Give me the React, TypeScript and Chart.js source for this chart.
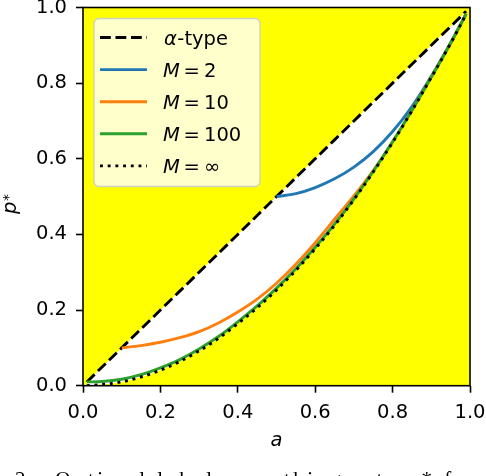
import React, { useEffect, useRef } from "react";
import { Chart, registerables } from "chart.js";

Chart.register(...registerables);

const FONT = '"DejaVu Sans", sans-serif';

// Legend labels / colours
const SERIES_NAMES = ["α-type", "M = 2", "M = 10", "M = 100", "M = ∞"];
const SERIES_COLORS = ["#000000", "#1f77b4", "#ff7f0e", "#2ca02c", "#000000"];

// α-type (diagonal)
const alphaA = [0.01, 0.05, 0.1, 0.15, 0.2, 0.25, 0.3, 0.35, 0.4, 0.45, 0.5, 0.55, 0.6, 0.65, 0.7, 0.75, 0.8, 0.85, 0.9, 0.95, 0.99];
const alphaP = [0.01, 0.05, 0.1, 0.15, 0.2, 0.25, 0.3, 0.35, 0.4, 0.45, 0.5, 0.55, 0.6, 0.65, 0.7, 0.75, 0.8, 0.85, 0.9, 0.95, 0.99];

// M = 2
const m2A = [0.5, 0.55, 0.6, 0.65, 0.7, 0.75, 0.8, 0.85, 0.9, 0.95, 0.99];
const m2P = [0.5, 0.508, 0.524, 0.547, 0.578, 0.619, 0.672, 0.738, 0.818, 0.907, 0.983];

// M = 10
const m10A = [0.1, 0.15, 0.2, 0.25, 0.3, 0.35, 0.4, 0.45, 0.5, 0.55, 0.6, 0.65, 0.7, 0.75, 0.8, 0.85, 0.9, 0.95, 0.99];
const m10P = [0.1, 0.106, 0.115, 0.127, 0.143, 0.166, 0.195, 0.229, 0.271, 0.321, 0.378, 0.44, 0.502, 0.569, 0.645, 0.728, 0.816, 0.906, 0.983];

// M = 100
const m100A = [0.01, 0.05, 0.1, 0.15, 0.2, 0.25, 0.3, 0.35, 0.4, 0.45, 0.5, 0.55, 0.6, 0.65, 0.7, 0.75, 0.8, 0.85, 0.9, 0.95, 0.99];
const m100P = [0.01, 0.011, 0.017, 0.029, 0.047, 0.069, 0.097, 0.13, 0.169, 0.211, 0.258, 0.309, 0.366, 0.427, 0.494, 0.567, 0.645, 0.728, 0.816, 0.906, 0.983];

// M = ∞
const mInfA = [0.01, 0.05, 0.1, 0.15, 0.2, 0.25, 0.3, 0.35, 0.4, 0.45, 0.5, 0.55, 0.6, 0.65, 0.7, 0.75, 0.8, 0.85, 0.9, 0.95, 0.99];
const mInfP = [0.0, 0.003, 0.01, 0.023, 0.041, 0.064, 0.092, 0.125, 0.164, 0.206, 0.253, 0.305, 0.362, 0.424, 0.492, 0.565, 0.643, 0.727, 0.815, 0.905, 0.982];

const X_TICKS = [0, 0.2, 0.4, 0.6, 0.8, 1.0];
const Y_TICKS = [0, 0.2, 0.4, 0.6, 0.8, 1.0];

const X_LABEL = "a";
const CAPTION = "2.  Optimal label smoothing rate p* for";

const toPts = (xs: number[], ys: number[]) => xs.map((x, i) => ({ x, y: ys[i] }));

const DASHED = [10.8, 4.7];
const DOTTED = [2.9, 4.8];
const LW = 2.9;

const bgPlugin = {
  id: "yellowBg",
  beforeDraw(chart: any) {
    const { ctx, chartArea: a } = chart;
    ctx.save();
    ctx.fillStyle = "#ffff00";
    ctx.fillRect(a.left, a.top, a.right - a.left, a.bottom - a.top);
    ctx.restore();
  },
};

const framePlugin = {
  id: "frame",
  afterDatasetsDraw(chart: any) {
    const { ctx, chartArea: a } = chart;
    ctx.save();
    ctx.strokeStyle = "#000";
    ctx.lineWidth = 1.6;
    ctx.setLineDash([]);
    ctx.strokeRect(a.left, a.top, a.right - a.left, a.bottom - a.top);
    ctx.restore();
  },
};

const legendPlugin = {
  id: "customLegend",
  afterDraw(chart: any) {
    const ctx = chart.ctx;
    ctx.save();
    ctx.beginPath();
    ctx.roundRect(94, 18.5, 166, 168, 5);
    ctx.fillStyle = "rgba(255,255,255,0.8)";
    ctx.fill();
    ctx.lineWidth = 1.4;
    ctx.strokeStyle = "rgba(204,204,204,0.9)";
    ctx.stroke();
    const dashes = [DASHED, [], [], [], DOTTED];
    SERIES_NAMES.forEach((name, i) => {
      const y = 37.5 + i * 32.1;
      ctx.beginPath();
      ctx.setLineDash(dashes[i]);
      ctx.lineCap = "butt";
      ctx.lineWidth = LW;
      ctx.strokeStyle = SERIES_COLORS[i];
      ctx.moveTo(100, y);
      ctx.lineTo(147, y);
      ctx.stroke();
      ctx.setLineDash([]);
      ctx.fillStyle = "#000";
      ctx.textBaseline = "alphabetic";
      ctx.textAlign = "left";
      const by = y + 7.2;
      if (name.startsWith("α")) {
        ctx.font = `italic 19.5px ${FONT}`;
        ctx.fillText("α", 164, by);
        const aw = ctx.measureText("α").width;
        ctx.font = `19.5px ${FONT}`;
        ctx.fillText(name.slice(1), 164 + aw + 0.5, by);
      } else {
        const parts = name.split(" = ");
        ctx.font = `italic 19.5px ${FONT}`;
        ctx.fillText(parts[0], 163, by);
        ctx.font = `19.5px ${FONT}`;
        ctx.fillText("=", 183.5, by);
        ctx.fillText(parts[1], 204, by);
      }
    });

    // y-axis title p*
    ctx.save();
    ctx.translate(16, 214);
    ctx.rotate(-Math.PI / 2);
    ctx.font = `italic 19.5px ${FONT}`;
    ctx.fillText("p", 0, 0);
    const pw = ctx.measureText("p").width;
    ctx.font = `13.6px ${FONT}`;
    ctx.fillText("*", pw + 0.5, -3);
    ctx.restore();

    // caption (cropped at the bottom of the picture)
    ctx.font = `21px "Liberation Serif", serif`;
    (ctx as any).letterSpacing = "3.5px";
    ctx.fillStyle = "#000";
    ctx.fillText(CAPTION, 15, 486);
    ctx.restore();
  },
};

export default function App() {
  const ref = useRef<HTMLCanvasElement>(null);
  useEffect(() => {
    if (!ref.current) return;
    const tickFont = { family: FONT, size: 19.5 };
    const chart = new Chart(ref.current, {
      type: "line",
      data: {
        datasets: [
          {
            label: SERIES_NAMES[0],
            data: toPts(alphaA, alphaP),
            borderColor: SERIES_COLORS[0],
            borderDash: DASHED,
            borderWidth: LW,
            borderCapStyle: "butt",
            backgroundColor: "#ffffff",
            fill: 4,
            pointRadius: 0,
            order: 4,
          },
          {
            label: SERIES_NAMES[1],
            data: toPts(m2A, m2P),
            borderColor: SERIES_COLORS[1],
            borderWidth: LW,
            fill: false,
            pointRadius: 0,
            cubicInterpolationMode: "monotone",
            order: 3,
          },
          {
            label: SERIES_NAMES[2],
            data: toPts(m10A, m10P),
            borderColor: SERIES_COLORS[2],
            borderWidth: LW,
            fill: false,
            pointRadius: 0,
            cubicInterpolationMode: "monotone",
            order: 2,
          },
          {
            label: SERIES_NAMES[3],
            data: toPts(m100A, m100P),
            borderColor: SERIES_COLORS[3],
            borderWidth: LW,
            fill: false,
            pointRadius: 0,
            cubicInterpolationMode: "monotone",
            order: 1,
          },
          {
            label: SERIES_NAMES[4],
            data: toPts(mInfA, mInfP),
            borderColor: SERIES_COLORS[4],
            borderDash: DOTTED,
            borderWidth: LW,
            borderCapStyle: "butt",
            fill: false,
            pointRadius: 0,
            cubicInterpolationMode: "monotone",
            order: 0,
          },
        ],
      },
      options: {
        responsive: false,
        maintainAspectRatio: false,
        animation: false,
        devicePixelRatio: 1,
        layout: { padding: 0 },
        plugins: {
          legend: { display: false },
          tooltip: { enabled: false },
          filler: { drawTime: "beforeDatasetsDraw" },
        },
        scales: {
          x: {
            type: "linear",
            min: 0,
            max: 1,
            afterBuildTicks: (s: any) => {
              s.ticks = X_TICKS.map((v) => ({ value: v }));
            },
            afterFit: (s: any) => {
              s.height = 90.3;
              s.paddingLeft = 0;
              s.paddingRight = 16;
            },
            ticks: {
              font: tickFont,
              color: "#000",
              padding: 9,
              maxRotation: 0,
              callback: (v: any) => Number(v).toFixed(1),
            },
            grid: {
              drawOnChartArea: false,
              drawTicks: true,
              tickLength: 7,
              tickWidth: 1.6,
              tickColor: "#000",
            },
            border: { display: false },
            title: {
              display: true,
              text: X_LABEL,
              color: "#000",
              font: { family: FONT, size: 19.5, style: "italic" },
              padding: { top: 0, bottom: 23 },
            },
          },
          y: {
            type: "linear",
            min: 0,
            max: 1,
            afterBuildTicks: (s: any) => {
              s.ticks = Y_TICKS.map((v) => ({ value: v }));
            },
            afterFit: (s: any) => {
              s.width = 83;
              s.paddingTop = 7.5;
              s.paddingBottom = 0;
            },
            ticks: {
              font: tickFont,
              color: "#000",
              padding: 9,
              callback: (v: any) => Number(v).toFixed(1),
            },
            grid: {
              drawOnChartArea: false,
              drawTicks: true,
              tickLength: 7,
              tickWidth: 1.6,
              tickColor: "#000",
            },
            border: { display: false },
          },
        },
      },
      plugins: [bgPlugin, framePlugin, legendPlugin],
    } as any);
    return () => chart.destroy();
  }, []);
  return (
    <div style={{ position: "fixed", left: 0, top: 0, width: 486, height: 476, background: "#fff" }}>
      <canvas ref={ref} width={486} height={476} style={{ display: "block", width: 486, height: 476 }} />
    </div>
  );
}
